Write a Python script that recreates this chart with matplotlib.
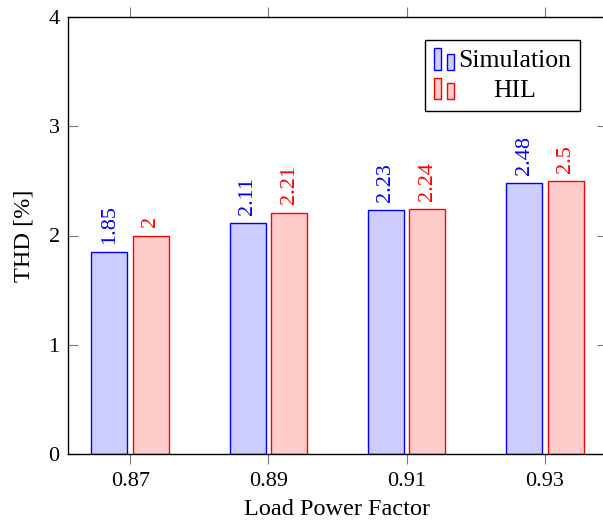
import matplotlib
matplotlib.use('Agg')
import matplotlib.pyplot as plt
from matplotlib.container import BarContainer
from matplotlib.legend_handler import HandlerBase
from matplotlib.patches import Rectangle

power_factors = ['0.87', '0.89', '0.91', '0.93']
thd_simulation = [1.85, 2.11, 2.23, 2.48]
thd_hil = [2.0, 2.21, 2.24, 2.5]
value_labels_sim = ['1.85', '2.11', '2.23', '2.48']
value_labels_hil = ['2', '2.21', '2.24', '2.5']

plt.rcParams['font.family'] = ['Liberation Serif', 'DejaVu Serif']
FS = 16
FS_LABEL = 17.5


class TwinBarHandler(HandlerBase):
    # pgfplots style ybar legend: two small bars of different height
    def create_artists(self, legend, orig_handle, xdescent, ydescent,
                       width, height, fontsize, trans):
        patch = orig_handle.patches[0]
        fc = patch.get_facecolor()
        ec = patch.get_edgecolor()
        bw = width * 0.34
        h = height * 1.2
        y0 = -ydescent - 0.15 * height
        r1 = Rectangle((-xdescent, y0), bw, h,
                       facecolor=fc, edgecolor=ec, lw=1, transform=trans)
        r2 = Rectangle((-xdescent + width - bw, y0), bw, h * 0.75,
                       facecolor=fc, edgecolor=ec, lw=1, transform=trans)
        return [r1, r2]


fig = plt.figure(figsize=(6.03, 5.22), dpi=100)
ax = fig.add_axes([68 / 603, 1 - 454 / 522, 539 / 603, 437 / 522])

x = list(range(len(power_factors)))
width = 0.26
offset = 0.15
b1 = ax.bar([i - offset for i in x], thd_simulation, width,
            facecolor='#ccccff', edgecolor='blue', linewidth=1, label='Simulation')
b2 = ax.bar([i + offset for i in x], thd_hil, width,
            facecolor='#ffcccc', edgecolor='red', linewidth=1, label='HIL')

for i in x:
    ax.annotate(value_labels_sim[i], (i - offset, thd_simulation[i]), xytext=(0, 6),
                textcoords='offset points', rotation=90, ha='center', va='bottom',
                color='blue', fontsize=FS)
    ax.annotate(value_labels_hil[i], (i + offset, thd_hil[i]), xytext=(0, 6),
                textcoords='offset points', rotation=90, ha='center', va='bottom',
                color='red', fontsize=FS)

ax.set_xlim(-0.45, 3.45)
ax.set_ylim(0, 4)
ax.set_xticks(x)
ax.set_xticklabels(power_factors)
ax.set_yticks([0, 1, 2, 3, 4])
ax.tick_params(axis='x', direction='out', top=True, length=7, width=0.8,
               color='#777777', labelsize=FS, pad=6)
ax.tick_params(axis='y', direction='in', right=True, length=7, width=0.8,
               color='#777777', labelsize=FS, pad=6)
for s in ax.spines.values():
    s.set_linewidth(1)
    s.set_color('black')

ax.set_xlabel('Load Power Factor', fontsize=FS_LABEL, labelpad=6)
ax.set_ylabel('THD [%]', fontsize=FS_LABEL, labelpad=10)

leg = ax.legend(handles=[b1, b2], loc='upper right', bbox_to_anchor=(0.950, 0.947),
                borderaxespad=0, fancybox=False, framealpha=1, edgecolor='black',
                fontsize=FS_LABEL + 1, handlelength=0.8, handletextpad=0.15,
                labelspacing=0.25, borderpad=0.35,
                handler_map={BarContainer: TwinBarHandler()})
leg.get_frame().set_linewidth(1)

# centre the shorter label under the longer one
fig.canvas.draw()
texts = leg.get_texts()
r = fig.canvas.get_renderer()
w0 = texts[0].get_window_extent(r).width
w1 = texts[1].get_window_extent(r).width
texts[1].set_x((w0 - w1) / 2)

fig.savefig('out.png', dpi=100)
